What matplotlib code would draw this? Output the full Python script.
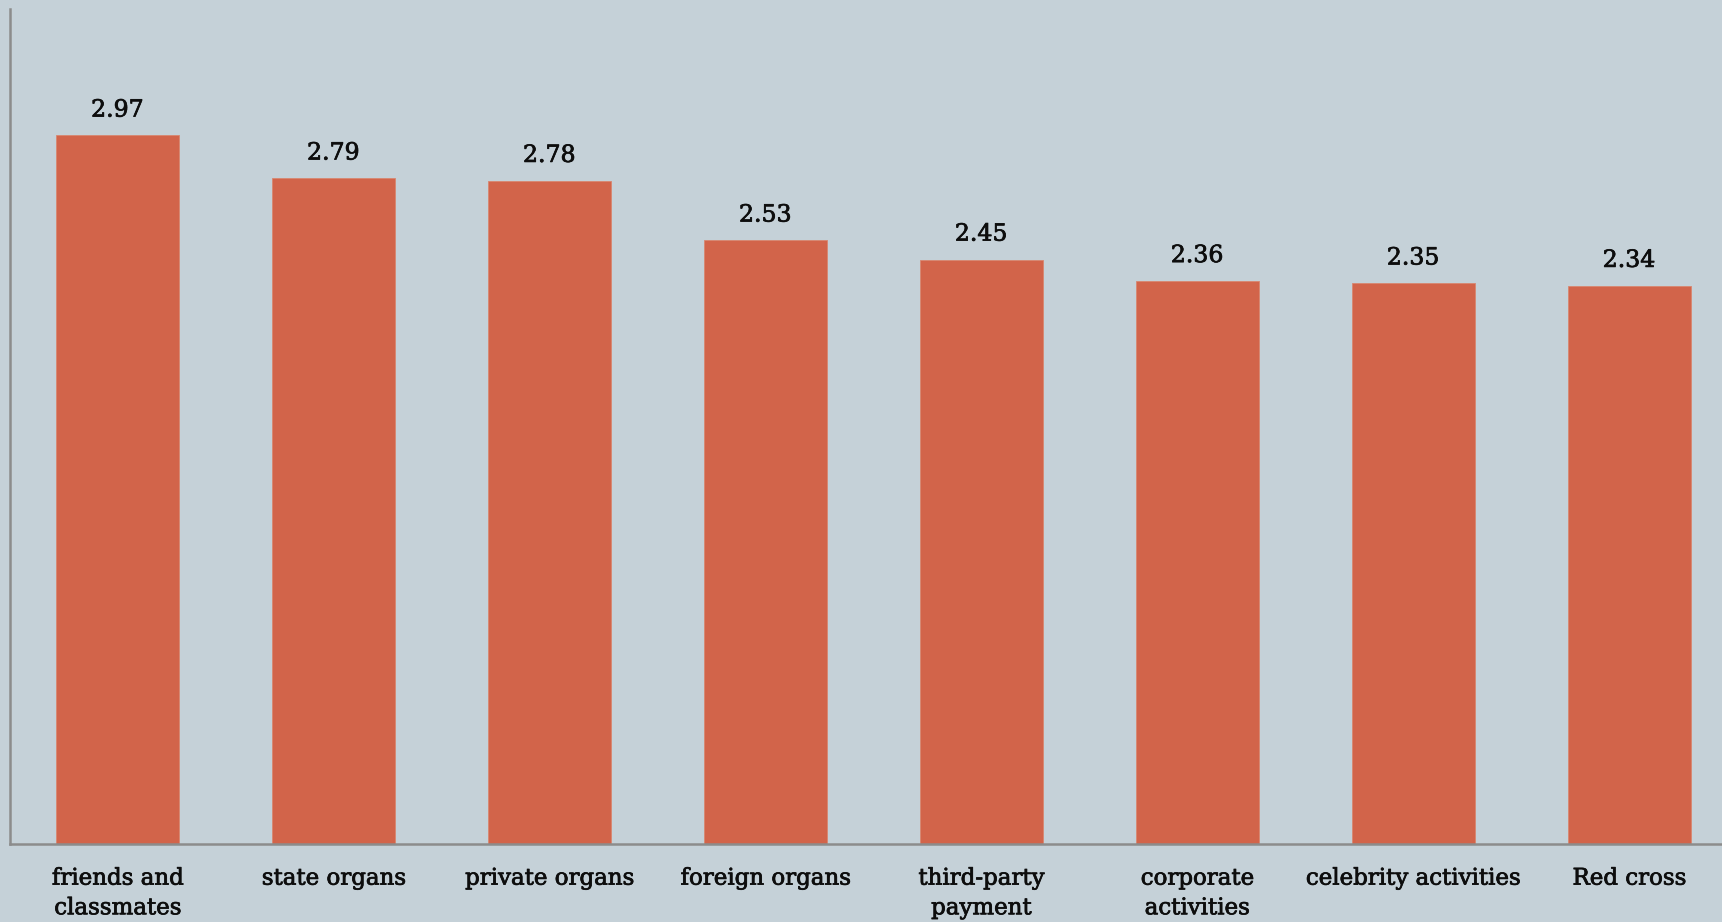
import matplotlib.pyplot as plt
import matplotlib.patheffects as pe

categories = ["friends and\nclassmates", "state organs", "private organs", "foreign organs",
              "third-party\npayment", "corporate\nactivities", "celebrity activities", "Red cross"]
values = [2.97, 2.79, 2.78, 2.53, 2.45, 2.36, 2.35, 2.34]

bg = "#C5D1D8"
bar_color = "#D2644A"
ink = "#0d0d0d"
heavy = [pe.withStroke(linewidth=0.55, foreground=ink)]

fig = plt.figure(figsize=(17.22, 9.22), dpi=100, facecolor=bg)
ax = fig.add_axes([10 / 1722, 1 - 844 / 922, 1 - 10 / 1722, (844 - 9) / 922])
ax.set_facecolor(bg)

x = range(len(categories))
ax.bar(x, values, width=0.57, color=bar_color, edgecolor="#d9866f", linewidth=0.6)

for xi, v in zip(x, values):
    ax.annotate(f"{v:.2f}", (xi, v), xytext=(0, 10), textcoords="offset points",
                ha="center", va="bottom", fontsize=17, family="DejaVu Serif", color=ink,
                path_effects=heavy)

ax.set_xlim(-0.498, 7.43)
ax.set_ylim(0, 3.5)
ax.set_yticks([])
ax.set_xticks(list(x))
ax.set_xticklabels(categories, fontsize=16.5, family="DejaVu Serif", color=ink,
                   linespacing=1.45)
for lbl in ax.get_xticklabels():
    lbl.set_path_effects(heavy)
ax.tick_params(axis="x", length=0, pad=17)

for side in ("top", "right"):
    ax.spines[side].set_visible(False)
for side in ("left", "bottom"):
    ax.spines[side].set_color("#8c8c8c")
    ax.spines[side].set_linewidth(1.8)

fig.savefig("out.png", dpi=100, facecolor=bg)
